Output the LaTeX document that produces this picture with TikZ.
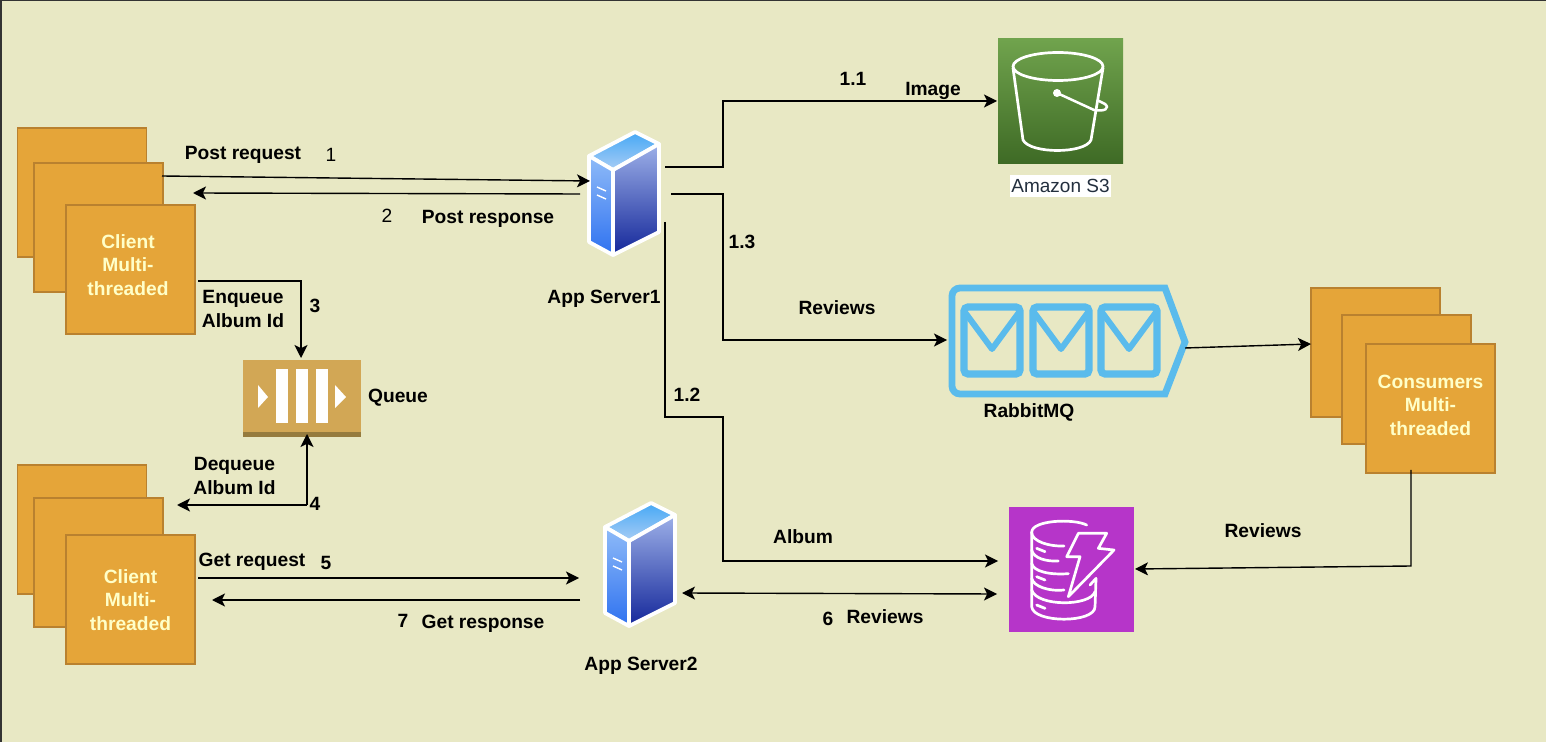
\documentclass[tikz,border=0pt]{standalone}
\usepackage{fontspec}
\setmainfont{Liberation Sans}
\usetikzlibrary{arrows.meta, positioning, calc}
\definecolor{mybg}{RGB}{232,232,196}
\definecolor{myorange}{RGB}{229,165,57}
\definecolor{myedge}{RGB}{185,129,47}
\definecolor{mytext}{RGB}{255,255,200}
\definecolor{myrabbit}{RGB}{90,187,236}
\definecolor{myqueue}{RGB}{210,167,85}
\definecolor{myqueueb}{RGB}{149,123,62}
\definecolor{mydb}{RGB}{182,53,201}
\definecolor{myink}{RGB}{35,47,62}
\definecolor{s3top}{RGB}{112,163,77}
\definecolor{s3bot}{RGB}{62,106,37}
\definecolor{srvlefta}{RGB}{143,187,248}
\definecolor{srvleftb}{RGB}{47,114,240}
\definecolor{srvtopa}{RGB}{70,168,245}
\definecolor{srvtopb}{RGB}{168,205,245}
\definecolor{srvrighta}{RGB}{157,176,232}
\definecolor{srvrightb}{RGB}{20,39,154}
\tikzset{
    clientbox/.style={draw=myedge,line width=0.7pt,fill=myorange,minimum width=64.5pt,minimum height=64.5pt,inner sep=0pt},
    clienttext/.style={inner sep=0pt,align=center,text=mytext,font=\bfseries\fontsize{9.6}{11.75}\selectfont},
    iconbox/.style={inner sep=0pt,minimum width=62.5pt,minimum height=62.5pt},
    lbl/.style={inner sep=0pt,align=center,font=\bfseries\fontsize{9.6}{11.9}\selectfont},
    num/.style={inner sep=0pt,font=\fontsize{9.6}{11.9}\selectfont},
    conn/.style={line width=0.7pt,-{Stealth[length=6.5pt,width=6.5pt,inset=1.6pt]}},
    white line/.style={draw=white,line width=1.35pt,line join=round,line cap=round},
    srvface/.style={draw=white,line width=1.9pt,line join=round},
    appserver/.pic={
        \path[srvface,top color=srvtopa,bottom color=srvtopb] (-35,-37) -- (11,-61) -- (35,-49) -- (-11,-23) -- cycle;
        \path[srvface,top color=srvlefta,bottom color=srvleftb] (-35,-37) -- (-11,-23) -- (-11,62) -- (-35,49) -- cycle;
        \path[srvface,top color=srvrighta,bottom color=srvrightb] (-11,-23) -- (35,-49) -- (35,39) -- (-11,62) -- cycle;
        \draw[white,line width=0.7pt] (-27,-6) -- (-18,-2) (-27,2) -- (-18,6);
    }
}
\begin{document}
\begin{tikzpicture}[x=0.5pt,y=-0.5pt]
    \useasboundingbox (0,0) rectangle (1546,742);
    \fill[mybg] (0,0) rectangle (1546,742);
    \fill[black!80] (0,0) rectangle (2,742);
    \fill[black!80] (0,0) rectangle (1546,1.5);

    % Clients
    \node[clientbox] (clienta3) at (82,192.5) {};
    \node[clientbox] (clienta2) at (98.5,227.5) {};
    \node[clientbox] (clienta1) at (130.5,269.5) {};
    \node[clienttext] (clientalbl) at (128,265) {Client\\Multi-\\threaded};
    \node[clientbox] (clientb3) at (82,529.5) {};
    \node[clientbox] (clientb2) at (98.5,562.5) {};
    \node[clientbox] (clientb1) at (130.5,599.5) {};
    \node[clienttext] (clientblbl) at (130.5,600) {Client\\Multi-\\threaded};

    % Consumers
    \node[clientbox] (cons3) at (1375.5,352.5) {};
    \node[clientbox] (cons2) at (1406.5,379.5) {};
    \node[clientbox] (cons1) at (1430.5,408.5) {};
    \node[clienttext] (conslbl) at (1430.5,405) {Consumers\\Multi-\\threaded};

    % App servers
    \pic at (624,193) {appserver};
    \pic at (640,564) {appserver};
    \node[lbl] (server1) at (604,299) {App Server1};
    \node[lbl] (server2) at (641,666) {App Server2};

    % S3
    \node[iconbox,top color=s3top,bottom color=s3bot] (s3) at (1060.5,101.5) {};
    \draw[white,line width=1.35pt] (1058,66.5) ellipse [x radius=45,y radius=14];
    \draw[white,line width=1.35pt,line join=round] (1013,68) -- (1023,140) .. controls (1030,154) and (1085,154) .. (1091,140) -- (1103,68);
    \fill[white] (1057,93) circle [radius=4];
    \draw[white,line width=1.25pt] (1057,93) -- (1094,110) .. controls (1105,112) and (1110,108) .. (1105,104) .. controls (1103,103) .. (1097,100);
    \node[fill=white,text=myink,inner sep=0pt,minimum width=50.5pt,minimum height=11pt,font=\fontsize{9.5}{11}\selectfont] (s3lbl) at (1060.5,186) {Amazon S3};

    % RabbitMQ
    \node[inner sep=0pt,minimum width=119.5pt,minimum height=56pt] (rabbit) at (1068.5,341) {};
    \draw[myrabbit,line width=3.4pt,line join=miter] (1165,288) -- (960,288) [rounded corners=4pt] -- (952,288) -- (952,394) [sharp corners] -- (1165,394) -- (1185,342) -- cycle;
    \foreach \ex in {964,1033,1101} {
        \draw[myrabbit,line width=3.6pt,rounded corners=2pt] (\ex,307) rectangle (\ex+56,374);
        \draw[myrabbit,line width=3pt,line join=round] (\ex,311) -- (\ex+28,349) -- (\ex+56,311);
    }
    \node[lbl] (rabbitlbl) at (1029,412) {RabbitMQ};

    % DynamoDB
    \node[iconbox,fill=mydb] (db) at (1071.5,569.5) {};
    \begin{scope}[shift={(990,495)},x=0.1667pt,y=-0.1667pt]
        \draw[white line] (290,90) .. controls (250,70) and (125,75) .. (125,112) .. controls (125,140) and (180,155) .. (222,153);
        \draw[white line] (125,112) -- (125,335) .. controls (130,385) and (315,385) .. (315,335) -- (318,250) -- (300,270);
        \draw[white line] (125,165) .. controls (130,190) and (170,200) .. (205,198);
        \draw[white line] (125,205) .. controls (130,230) and (180,240) .. (235,236);
        \draw[white line] (125,250) .. controls (130,275) and (180,290) .. (222,285);
        \draw[white line] (125,285) .. controls (140,335) and (300,335) .. (315,290);
        \draw[white line] (140,160) -- (165,170) (140,245) -- (165,255) (140,330) -- (165,340);
        \draw[white line] (265,115) -- (350,115) -- (325,160) -- (372,165) -- (235,305) -- (270,185) -- (230,185) -- cycle;
    \end{scope}

    % Queue
    \node[inner sep=0pt,fill=myqueue,minimum width=59pt,minimum height=38.5pt] (queue) at (302,398.5) {};
    \fill[myqueueb] (243,432) rectangle (361,437);
    \foreach \qx in {276,296,316} {
        \fill[white] (\qx,369) rectangle (\qx+12,423);
    }
    \fill[white] (258,385) -- (268,397) -- (258,408) -- cycle;
    \fill[white] (335,385) -- (346,397) -- (335,408) -- cycle;
    \node[lbl] (queuelbl) at (398,398) {Queue};

    % Free ends of the arrows
    \coordinate (postout) at (162,176);
    \coordinate (postin) at (590,181);
    \coordinate (respout) at (580,194);
    \coordinate (respin) at (193,193);
    \coordinate (enq) at (198,281);
    \coordinate (enqin) at (301,358);
    \coordinate (deqtop) at (307,434);
    \coordinate (deqmid) at (307,505);
    \coordinate (deqin) at (177,505);
    \coordinate (getout) at (198,578);
    \coordinate (getin) at (579,578);
    \coordinate (gresout) at (580,600);
    \coordinate (gresin) at (212,600);
    \coordinate (imgout) at (665,167);
    \coordinate (revout) at (671,194);
    \coordinate (albout) at (665,222);
    \coordinate (rabbitout) at (1185,348);
    \coordinate (consin) at (1311,344);
    \coordinate (consout) at (1411,470);
    \coordinate (dbin) at (1135,569);
    \coordinate (albin) at (998,561);
    \coordinate (srv2db) at (682,593);
    \coordinate (dbsrv2) at (997,594);

    % Arrows
    \draw[conn] (postout) -- (postin);
    \draw[conn] (respout) -- (respin);
    \draw[conn] (enq) -| (enqin);
    \draw[conn] (deqmid) -- (deqtop);
    \draw[conn] (deqmid) -- (deqin);
    \draw[conn] (getout) -- (getin);
    \draw[conn] (gresout) -- (gresin);
    \draw[conn] (imgout) -- (723,167) -- (723,101) -- (997,101);
    \draw[conn] (revout) -- (723,194) -- (723,340) -- (947,340);
    \draw[conn] (albout) -- (665,417) -- (723,417) -- (723,561) -- (albin);
    \draw[conn] (rabbitout) -- (consin);
    \draw[conn] (consout) -- (1411,566) -- (dbin);
    \draw[conn,{Stealth[length=6.5pt,width=6.5pt,inset=1.6pt]}-{Stealth[length=6.5pt,width=6.5pt,inset=1.6pt]}] (srv2db) -- (dbsrv2);

    % Labels
    \node[lbl] (postreq) at (243,155) {Post request};
    \node[num] (numa) at (331,155) {1};
    \node[num] (numb) at (387,216) {2};
    \node[lbl] (postresp) at (488,219) {Post response};
    \node[lbl] (enqlbl) at (243,309) {Enqueue\\Album Id};
    \node[lbl] (numc) at (315,306) {3};
    \node[lbl] (deqlbl) at (234.5,476) {Dequeue\\Album Id};
    \node[lbl] (numd) at (315,504) {4};
    \node[lbl] (getreq) at (252,562) {Get request};
    \node[lbl] (nume) at (326,563) {5};
    \node[lbl] (numg) at (403,621) {7};
    \node[lbl] (getresp) at (483,624) {Get response};
    \node[lbl] (numf) at (828,619) {6};
    \node[lbl] (revsix) at (885,617) {Reviews};
    \node[lbl] (numaa) at (853,79) {1.1};
    \node[lbl] (imglbl) at (933,91) {Image};
    \node[lbl] (numac) at (742,242) {1.3};
    \node[lbl] (revlbl) at (837,308) {Reviews};
    \node[lbl] (numab) at (687,395) {1.2};
    \node[lbl] (alblbl) at (803,537) {Album};
    \node[lbl] (revdb) at (1263,531) {Reviews};
\end{tikzpicture}
\end{document}
